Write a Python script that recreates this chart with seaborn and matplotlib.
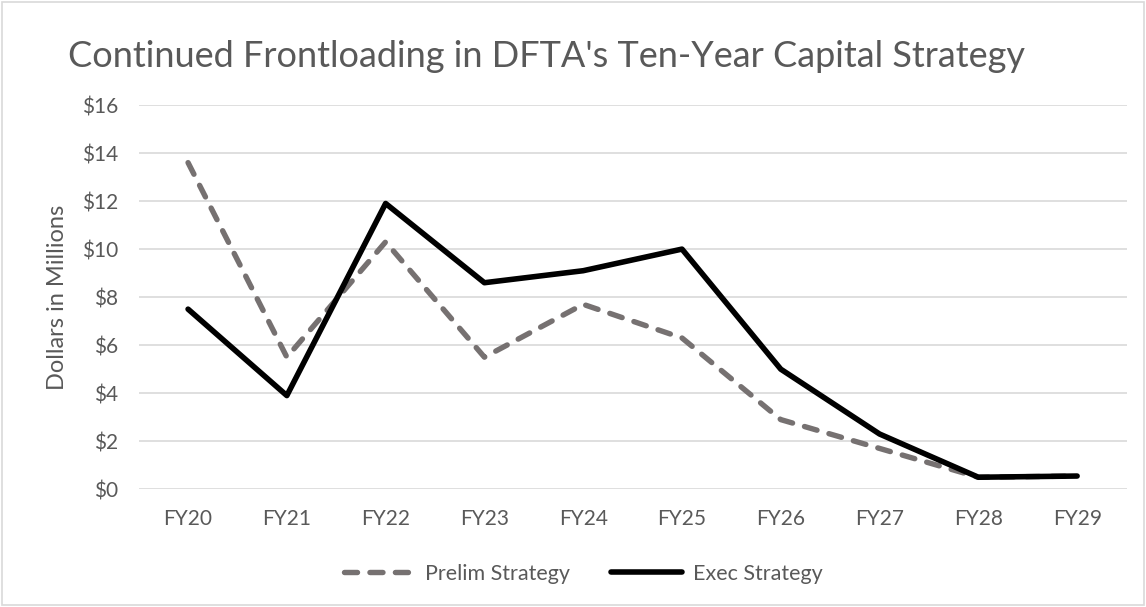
import pandas as pd
import matplotlib.pyplot as plt
import seaborn as sns

years = ['FY20', 'FY21', 'FY22', 'FY23', 'FY24', 'FY25', 'FY26', 'FY27', 'FY28', 'FY29']
prelim = [13.6, 5.5, 10.3, 5.5, 7.7, 6.3, 2.9, 1.7, 0.5, 0.55]
execu = [7.5, 3.9, 11.9, 8.6, 9.1, 10.0, 5.0, 2.3, 0.5, 0.55]
yticks = [0, 2, 4, 6, 8, 10, 12, 14, 16]

sns.set_style('white')
plt.rcParams['font.family'] = ['Lato', 'DejaVu Sans']

df = pd.DataFrame({'year': years, 'Prelim Strategy': prelim, 'Exec Strategy': execu})
x = list(range(len(years)))

fig = plt.figure(figsize=(11.46, 6.07), dpi=100)
ax = fig.add_axes([0.121, 0.194, 0.862, 0.633])

for y in yticks:
    ax.axhline(y, color='#d9d9d9', lw=1.2, zorder=0)

sns.lineplot(x=x, y=df['Prelim Strategy'], ax=ax, color='#767171', lw=3.9,
             label='Prelim Strategy')
ax.lines[-1].set_dashes([2.4, 2.3])
ax.lines[-1].set_dash_capstyle('round')
sns.lineplot(x=x, y=df['Exec Strategy'], ax=ax, color='black', lw=4.0,
             label='Exec Strategy')
ax.lines[-1].set_solid_capstyle('round')
ax.lines[-1].set_solid_joinstyle('round')

ax.set_xlim(-0.5, len(years) - 0.5)
ax.set_ylim(0, 16)
ax.set_xticks(x)
ax.set_xticklabels(years)
ax.set_yticks(yticks)
ax.set_yticklabels([f'${v}' for v in yticks])
ax.tick_params(colors='#595959', labelsize=15, length=0)
ax.tick_params(axis='y', pad=15)
ax.tick_params(axis='x', pad=14)
for s in ax.spines.values():
    s.set_visible(False)
ax.set_xlabel('')
ax.set_ylabel('Dollars in Millions', fontsize=17, color='#595959', labelpad=10)

fig.text(0.477, 0.907, "Continued Frontloading in DFTA's Ten-Year Capital Strategy",
         ha='center', va='center', fontsize=26, color='#595959')

leg = ax.legend(loc='center', bbox_to_anchor=(0.45, -0.22), ncol=2, frameon=False,
                fontsize=15.5, labelcolor='#595959', handlelength=3.3, columnspacing=1.9,
                handletextpad=0.5)
leg.get_lines()[0].set_dash_capstyle('round')

fig.patches.append(plt.Rectangle((0.002, 0.003), 0.996, 0.994, transform=fig.transFigure,
                                 fill=False, edgecolor='#d9d9d9', lw=1.2))

fig.savefig('out.png', dpi=100)
